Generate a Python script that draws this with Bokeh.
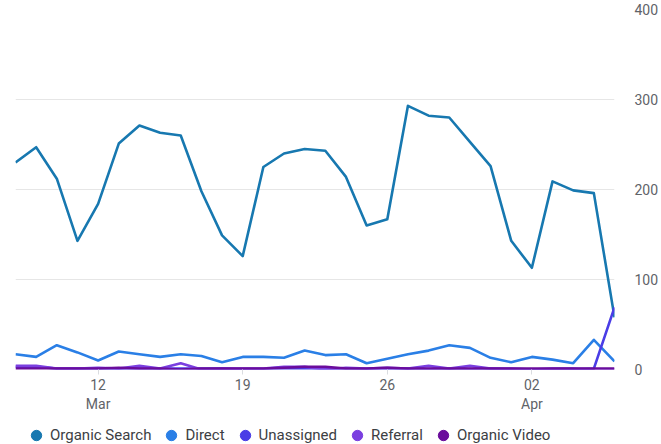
import pandas as pd
from bokeh.plotting import figure
from bokeh.layouts import column
from bokeh.models import ColumnDataSource, Range1d, FixedTicker, Legend, LegendItem
from bokeh.embed import file_html
from bokeh.resources import INLINE

# ---- data -------------------------------------------------------------
dates = pd.date_range("2023-03-08", "2023-04-06", freq="D")
organic_search = [230, 247, 212, 143, 184, 251, 271, 263, 260, 198, 149, 126, 225, 240, 245,
                  243, 214, 160, 167, 293, 282, 280, 253, 226, 143, 113, 209, 199, 196, 58]
direct = [17, 14, 27, 19, 10, 20, 17, 14, 17, 15, 8, 14, 14, 13, 21,
          16, 17, 7, 12, 17, 21, 27, 24, 13, 8, 14, 11, 7, 33, 9]
unassigned = [3, 3, 1, 1, 1, 1, 1, 1, 1, 1, 1, 0, 0, 1, 1,
              1, 1, 0, 1, 1, 0, 1, 0, 1, 0, 0, 0, 0, 1, 69]
referral = [4, 4, 1, 1, 2, 1, 4, 1, 7, 0, 1, 1, 1, 3, 3,
            0, 2, 1, 2, 1, 4, 1, 4, 1, 1, 0, 1, 1, 0, 0]
organic_video = [1, 1, 1, 1, 1, 2, 1, 1, 0, 1, 1, 1, 1, 2, 3,
                 3, 1, 1, 2, 1, 1, 1, 1, 1, 1, 1, 1, 1, 1, 1]
series_names = ["Organic Search", "Direct", "Unassigned", "Referral", "Organic Video"]
series_values = [organic_search, direct, unassigned, referral, organic_video]
y_ticks = [0, 100, 200, 300, 400]

# ---- styles -----------------------------------------------------------
colors = ["#1778b0", "#2a7fe6", "#4a3de6", "#7a3fe0", "#6a0c9c"]
FONT = "Roboto"

idx = list(range(len(dates)))
cols = {n: v for n, v in zip(series_names, series_values)}
cols["legend_key"] = [float("nan")] * len(idx)   # legend swatches only, never drawn
src = ColumnDataSource(dict(x=idx, **cols))

# weekly ticks on Sundays, month shown on first tick / month change
tick_pos, tick_lab = [], {}
prev_month = None
for i, d in enumerate(dates):
    if d.dayofweek == 6:
        tick_pos.append(i)
        lab = d.strftime("%d")
        if prev_month is None or d.month != prev_month:
            lab += "\n" + d.strftime("%b")
        prev_month = d.month
        tick_lab[i] = lab

p = figure(frame_width=599, frame_height=360,
           x_range=Range1d(0, len(dates) - 1), y_range=Range1d(y_ticks[0], y_ticks[-1]),
           output_backend="svg", toolbar_location=None, y_axis_location="right",
           min_border_top=9, min_border_left=15, min_border_right=10, min_border_bottom=0,
           outline_line_color=None, background_fill_color="white", border_fill_color="white")

# grid
p.xgrid.grid_line_color = None
p.ygrid.grid_line_color = "#e6e6e6"
p.ygrid.grid_line_width = 1

# y axis (right)
ya = p.yaxis[0]
ya.ticker = FixedTicker(ticks=y_ticks)
ya.axis_line_color = None
ya.major_tick_line_color = None
ya.major_tick_out = 0
ya.major_tick_in = 0
ya.minor_tick_line_color = None
ya.major_label_standoff = 20
ya.major_label_text_font = FONT
ya.major_label_text_font_size = "14px"
ya.major_label_text_color = "#5f6368"

# x axis
xa = p.xaxis[0]
xa.ticker = FixedTicker(ticks=tick_pos)
xa.major_label_overrides = tick_lab
xa.axis_line_color = None
xa.major_tick_line_color = "#dadce0"
xa.major_tick_out = 5
xa.major_tick_in = 0
xa.minor_tick_line_color = None
xa.major_label_standoff = 2
xa.major_label_text_font = FONT
xa.major_label_text_font_size = "14px"
xa.major_label_text_color = "#5f6368"

for name, col in zip(series_names, colors):
    p.line("x", name, source=src, line_color=col, line_width=2.6, line_join="round")

# ---- legend strip (own small figure below the chart) -------------------
pl = figure(width=658, height=34, x_range=Range1d(0, 1), y_range=Range1d(0, 1),
            output_backend="svg", toolbar_location=None,
            min_border_top=0, min_border_bottom=0, min_border_left=0, min_border_right=0,
            outline_line_color=None, background_fill_color="white", border_fill_color="white")
pl.xaxis.visible = False
pl.yaxis.visible = False
pl.xgrid.visible = False
pl.ygrid.visible = False

items = []
for name, col in zip(series_names, colors):
    r = pl.scatter("x", "legend_key", source=src, size=10, fill_color=col, line_color=col,
                   marker="circle")
    items.append(LegendItem(label=name, renderers=[r]))

legend = Legend(items=items, orientation="horizontal", location=(8, 0),
                glyph_width=26, glyph_height=26, label_standoff=1, spacing=7,
                padding=0, margin=0, border_line_color=None, background_fill_alpha=0,
                label_text_font=FONT, label_text_font_size="15px",
                label_text_color="#3c4043")
pl.add_layout(legend, "center")

layout = column(p, pl, spacing=0)
open("out.html", "w").write(file_html(layout, INLINE))
